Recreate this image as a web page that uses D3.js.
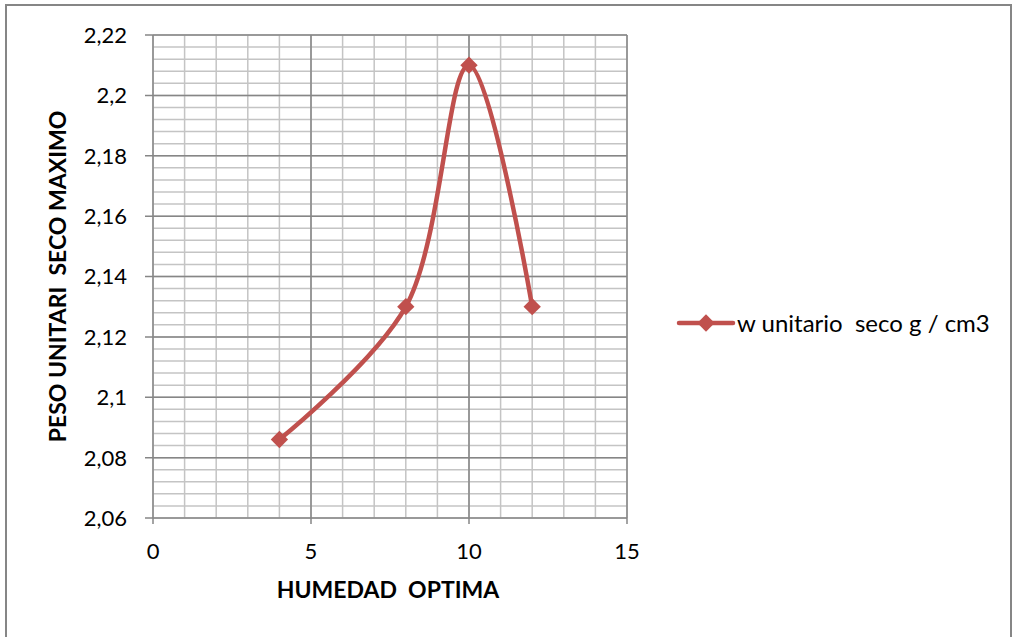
<!DOCTYPE html>
<html>
<head>
<meta charset="utf-8">
<script src="https://cdn.jsdelivr.net/npm/d3@7"></script>
<style>
  body { margin: 0; background: #fff; }
  text { font-family: Lato, "Open Sans", sans-serif; fill: #000; white-space: pre; }
  .tick-label { font-size: 22px; }
  .axis-title { font-size: 23px; font-weight: bold; }
  .legend-label { font-size: 24px; }
</style>
</head>
<body>
<div id="chart"></div>
<script>
// humedad (x) vs peso unitario seco (y)
const humedad = [4, 8, 10, 12];
const pesoSeco = [2.086, 2.13, 2.21, 2.13];
const xTicks = [0, 5, 10, 15];
const yTicks = [2.06, 2.08, 2.1, 2.12, 2.14, 2.16, 2.18, 2.2, 2.22];
const seriesName = 'w unitario  seco g / cm3';
const xTitle = 'HUMEDAD  OPTIMA';
const yTitle = 'PESO UNITARI  SECO MAXIMO';

const config = {
  width: 1013,
  height: 637,
  margin: {top: 35, left: 153},
  plotWidth: 474,
  plotHeight: 483,
  lineColor: '#c0504d',
  majorColor: '#868686',
  minorColor: '#c4c4c4'
};

const esLocale = d3.formatLocale({decimal: ',', thousands: '.', grouping: [3], currency: ['', '']});
const fmt = esLocale.format('.2~f');

const svg = d3.select('#chart').append('svg')
  .attr('width', config.width)
  .attr('height', config.height);

svg.append('rect')
  .attr('width', config.width)
  .attr('height', config.height)
  .attr('fill', '#fff');

// outer chart border
svg.append('rect')
  .attr('x', 6)
  .attr('y', 5)
  .attr('width', 1005)
  .attr('height', 640)
  .attr('fill', 'none')
  .attr('stroke', config.majorColor)
  .attr('stroke-width', 2);

const g = svg.append('g')
  .attr('transform', `translate(${config.margin.left},${config.margin.top})`);

const x = d3.scaleLinear().domain([0, 15]).range([0, config.plotWidth]);
const y = d3.scaleLinear().domain([2.06, 2.22]).range([config.plotHeight, 0]);

// minor gridlines
const xMinor = d3.range(0, 15.001, 1);
const yMinor = d3.range(0, 41).map(i => 2.06 + i * 0.004);

g.append('g').selectAll('line')
  .data(xMinor)
  .join('line')
  .attr('x1', d => x(d)).attr('x2', d => x(d))
  .attr('y1', 0).attr('y2', config.plotHeight)
  .attr('stroke', config.minorColor)
  .attr('stroke-width', 1.5);

g.append('g').selectAll('line')
  .data(yMinor)
  .join('line')
  .attr('x1', 0).attr('x2', config.plotWidth)
  .attr('y1', d => y(d)).attr('y2', d => y(d))
  .attr('stroke', config.minorColor)
  .attr('stroke-width', 1.5);

// major gridlines
g.append('g').selectAll('line')
  .data(xTicks)
  .join('line')
  .attr('x1', d => x(d)).attr('x2', d => x(d))
  .attr('y1', 0).attr('y2', config.plotHeight + 6)
  .attr('stroke', config.majorColor)
  .attr('stroke-width', 1.5);

g.append('g').selectAll('line')
  .data(yTicks)
  .join('line')
  .attr('x1', -8).attr('x2', config.plotWidth)
  .attr('y1', d => y(d)).attr('y2', d => y(d))
  .attr('stroke', config.majorColor)
  .attr('stroke-width', 1.5);

// tick labels
g.append('g').selectAll('text')
  .data(yTicks)
  .join('text')
  .attr('class', 'tick-label')
  .attr('x', -26)
  .attr('y', d => y(d))
  .attr('dy', '0.36em')
  .attr('text-anchor', 'end')
  .text(d => fmt(d));

g.append('g').selectAll('text')
  .data(xTicks)
  .join('text')
  .attr('class', 'tick-label')
  .attr('x', d => x(d))
  .attr('y', config.plotHeight + 41)
  .attr('text-anchor', 'middle')
  .text(d => d);

// axis titles
g.append('text')
  .attr('class', 'axis-title')
  .attr('x', 235)
  .attr('y', config.plotHeight + 80)
  .attr('text-anchor', 'middle')
  .text(xTitle);

g.append('text')
  .attr('class', 'axis-title')
  .attr('transform', `translate(-87,${config.plotHeight / 2}) rotate(-90)`)
  .attr('text-anchor', 'middle')
  .text(yTitle);

// series
const points = humedad.map((h, i) => [h, pesoSeco[i]]);

const line = d3.line()
  .x(d => x(d[0]))
  .y(d => y(d[1]))
  .curve(d3.curveCatmullRom.alpha(0.5));

g.append('path')
  .datum(points)
  .attr('d', line)
  .attr('fill', 'none')
  .attr('stroke', config.lineColor)
  .attr('stroke-width', 4.5)
  .attr('stroke-linejoin', 'round');

const diamond = d3.symbol().type(d3.symbolSquare).size(150);

g.append('g').selectAll('path')
  .data(points)
  .join('path')
  .attr('d', diamond)
  .attr('transform', d => `translate(${x(d[0])},${y(d[1])}) rotate(45)`)
  .attr('fill', config.lineColor);

// legend
const legend = svg.append('g')
  .attr('transform', 'translate(679,323)');

legend.append('line')
  .attr('x1', 0).attr('x2', 54)
  .attr('stroke', config.lineColor)
  .attr('stroke-width', 4.5)
  .attr('stroke-linecap', 'round');

legend.append('path')
  .attr('d', diamond)
  .attr('transform', 'translate(27,0) rotate(45)')
  .attr('fill', config.lineColor);

legend.append('text')
  .attr('class', 'legend-label')
  .attr('x', 58)
  .attr('dy', '0.36em')
  .text(seriesName);
</script>
</body>
</html>
